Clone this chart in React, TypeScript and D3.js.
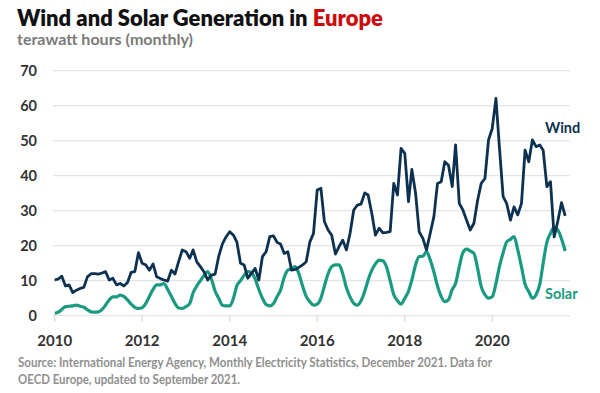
import React, { useLayoutEffect, useRef } from "react";
import * as d3 from "d3";

const startMonth = "2010-01";
const windTWh = [
  10.2, 10.5, 11.3, 8.5, 8.8, 6.6, 7.3, 7.8, 8.1, 11.1, 12, 12,
  11.9, 12.2, 12.6, 10.2, 10.7, 8.8, 9.2, 8.5, 9.5, 12.4, 12.6, 18,
  15, 14.5, 13, 14.8, 11.1, 10.6, 10.2, 9.9, 13, 11.9, 15.5, 18.8,
  18.3, 16.4, 18.8, 15.4, 14, 12.5, 10.2, 11.6, 11.9, 17, 20.5, 22.5,
  24, 23, 21.1, 15, 14.5, 10.7, 12.1, 13.5, 10.2, 16.9, 18.3, 22.6,
  22.8, 20.9, 20.5, 17.8, 18.3, 13, 13.2, 13.8, 14.5, 15.4, 21.1, 23.5,
  35.9, 36.4, 26.9, 24.5, 23, 17.6, 19.7, 21.6, 18.8, 23.5, 30.2, 31.6,
  31.9, 35.1, 34.5, 29.2, 23, 25, 23.7, 23.8, 24, 37.8, 34.5, 47.8,
  46.4, 32.6, 41.8, 35, 24, 22.1, 18.8, 23.5, 28.3, 37.8, 38.3, 44,
  43, 36.9, 48.8, 32.1, 30.2, 27.3, 24.5, 26.4, 33, 37.8, 39.2, 50.2,
  53.5, 62.1, 48, 34, 32, 27.3, 31.1, 28.8, 32.1, 47.3, 44, 50.2,
  48.3, 48.8, 47.3, 36.9, 38.3, 22.5, 27, 32.3, 28.5,
];
const solarTWh = [
  0.7, 1, 1.8, 2.6, 2.7, 2.8, 3, 2.7, 2.4, 1.7, 1.1, 1.0,
  1.1, 1.8, 3, 4.5, 5.4, 5.4, 5.9, 5.5, 4.5, 3.3, 2.4, 2.1,
  2.3, 3.5, 5.5, 7.5, 8.8, 8.8, 9.2, 7.5, 5.5, 3.5, 2.2, 2.1,
  2.6, 3.5, 6.5, 8.5, 10, 11.5, 12.6, 10.5, 7, 5, 3, 2.8,
  2.8, 5, 8.5, 10, 11.5, 12.6, 12.3, 10.5, 7.5, 5, 3.2, 2.8,
  3.5, 5.5, 7.3, 11, 13, 13.5, 14, 12, 8.5, 5.5, 4, 3,
  3.3, 5, 8.5, 12, 14, 14.5, 14.5, 12, 8, 5.4, 3.5, 3,
  4.3, 7, 10.2, 13, 14.8, 15.9, 15.7, 14, 10, 6, 4.3, 3.3,
  5, 7, 10.2, 14.5, 16.9, 17, 18.3, 16, 12.5, 8.5, 5.5, 4,
  4.6, 7.5, 9.2, 14, 18, 19, 18.5, 17.8, 13.5, 8.3, 6, 5,
  5.4, 9.2, 14, 18, 21.1, 21.8, 22.6, 18.8, 14, 9, 6.9, 5,
  6, 9, 15, 21, 23.5, 25.3, 24.5, 22, 18.5,
];
const yTicks = [0, 10, 20, 30, 40, 50, 60, 70];
const xTickYears = [2010, 2012, 2014, 2016, 2018, 2020];

const W = 600;
const H = 393;
const FONT = "Lato, 'Open Sans', sans-serif";
const WIND_COLOR = "#0d3150";
const SOLAR_COLOR = "#1a9a80";

export default function App() {
  const titleRef = useRef<SVGTextElement>(null);

  useLayoutEffect(() => {
    const el = titleRef.current;
    if (!el) return;
    const len = el.getComputedTextLength();
    if (len > 0) {
      const size = 24 * (366 / len);
      el.setAttribute("font-size", String(size));
    }
  }, []);

  const start = d3.timeParse("%Y-%m")(startMonth) as Date;
  const dates = windTWh.map((_, i) => d3.timeMonth.offset(start, i));

  const x = d3
    .scaleTime()
    .domain([new Date(2010, 0, 1), new Date(2022, 0, 1)])
    .range([54.7, 54.7 + 43.76 * 12]);
  const y = d3.scaleLinear().domain([0, 70]).range([315.7, 70.7]);

  const windLine = d3
    .line<number>()
    .x((_, i) => x(dates[i]))
    .y((d) => y(d))
    .curve(d3.curveLinear);
  const solarLine = d3
    .line<number>()
    .x((_, i) => x(dates[i]))
    .y((d) => y(d))
    .curve(d3.curveMonotoneX);

  const gridX0 = 53;
  const gridX1 = 570;

  return (
    <svg
      width={W}
      height={H}
      style={{ position: "absolute", left: 0, top: 0, background: "#fff" }}
      fontFamily={FONT}
    >
      <text ref={titleRef} x={17} y={26} fontSize={24} fontWeight={800} fill="#111">
        Wind and Solar Generation in <tspan fill="#cc0a0a">Europe</tspan>
      </text>
      <text x={17} y={45} fontSize={15} fontWeight={700} fill="#7a7a7a" textLength={176} lengthAdjust="spacingAndGlyphs">
        terawatt hours (monthly)
      </text>

      {yTicks.map((t) => (
        <g key={t}>
          <line x1={gridX0} x2={gridX1} y1={y(t)} y2={y(t)} stroke="#e4e4e4" strokeWidth={1.2} />
          <text x={37} y={y(t)} dy="0.35em" textAnchor="end" fontSize={14.5} fontWeight={700} fill="#333">
            {t}
          </text>
        </g>
      ))}

      {xTickYears.map((yr) => {
        const xx = x(new Date(yr, 0, 1));
        return (
          <g key={yr}>
            <line x1={xx} x2={xx} y1={y(0)} y2={y(0) + 6} stroke="#d0d0d0" strokeWidth={1} />
            <text x={xx} y={346} textAnchor="middle" fontSize={15} fontWeight={700} fill="#333">
              {yr}
            </text>
          </g>
        );
      })}

      <path d={solarLine(solarTWh) || ""} fill="none" stroke={SOLAR_COLOR} strokeWidth={3.2} strokeLinejoin="round" />
      <path d={windLine(windTWh) || ""} fill="none" stroke={WIND_COLOR} strokeWidth={2.8} strokeLinejoin="round" />

      <text x={545} y={133} fontSize={14.5} fontWeight={700} fill={WIND_COLOR}>
        Wind
      </text>
      <text x={545} y={299} fontSize={14.5} fontWeight={700} fill={SOLAR_COLOR}>
        Solar
      </text>

      <text x={18} y={367} fontSize={12.5} fontWeight={700} fill="#8f8f8f" textLength={474} lengthAdjust="spacingAndGlyphs">
        Source: International Energy Agency, Monthly Electricity Statistics, December 2021. Data for
      </text>
      <text x={18} y={384} fontSize={12.5} fontWeight={700} fill="#8f8f8f" textLength={222} lengthAdjust="spacingAndGlyphs">
        OECD Europe, updated to September 2021.
      </text>
    </svg>
  );
}
